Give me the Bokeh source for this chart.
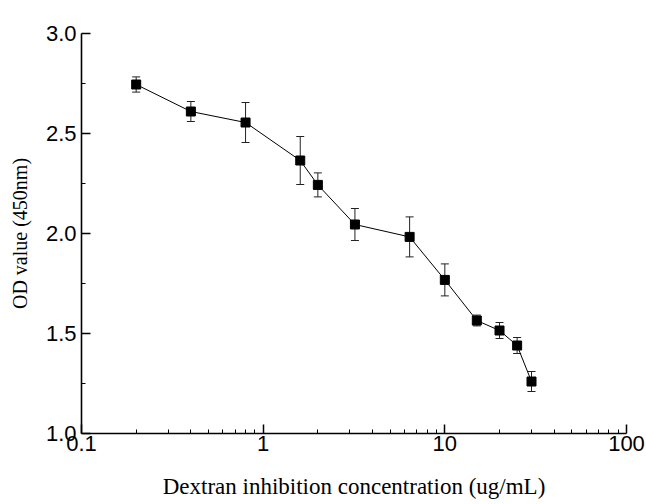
from bokeh.plotting import figure
from bokeh.models import FixedTicker, ColumnDataSource, Whisker, TeeHead, Range1d
from bokeh.embed import file_html
from bokeh.resources import INLINE

conc = [0.2, 0.4, 0.8, 1.6, 2.0, 3.2, 6.4, 10, 15, 20, 25, 30]
od = [2.745, 2.61, 2.555, 2.365, 2.243, 2.045, 1.983, 1.768, 1.565, 1.515, 1.44, 1.26]
err = [0.038, 0.05, 0.10, 0.12, 0.06, 0.08, 0.10, 0.08, 0.027, 0.04, 0.04, 0.05]
x_ticks = [0.1, 1, 10, 100]
y_ticks = [1.0, 1.5, 2.0, 2.5, 3.0]

upper = [v + e for v, e in zip(od, err)]
lower = [v - e for v, e in zip(od, err)]
src = ColumnDataSource(dict(x=conc, y=od, upper=upper, lower=lower))

p = figure(width=646, height=504, x_axis_type="log", output_backend="svg",
           toolbar_location=None, x_range=Range1d(0.1, 100), y_range=Range1d(1.0, 3.0),
           min_border_left=81, min_border_right=20, min_border_top=33, min_border_bottom=71)
p.outline_line_color = None
p.xgrid.visible = False
p.ygrid.visible = False
p.background_fill_color = "white"
p.border_fill_color = "white"

minor_x = []
for dec in [0.1, 1, 10]:
    for m in range(2, 10):
        minor_x.append(dec * m)
p.xaxis.ticker = FixedTicker(ticks=x_ticks, minor_ticks=minor_x)
p.yaxis.ticker = FixedTicker(ticks=y_ticks, minor_ticks=[1.25, 1.75, 2.25, 2.75])
p.xaxis.major_label_overrides = {0.1: "0.1", 1: "1", 10: "10", 100: "100"}
p.yaxis.major_label_overrides = {1.0: "1.0", 1.5: "1.5", 2.0: "2.0", 2.5: "2.5", 3.0: "3.0"}

for ax in [p.xaxis[0], p.yaxis[0]]:
    ax.axis_line_width = 1.6
    ax.axis_line_color = "black"
    ax.major_tick_in = 9
    ax.major_tick_out = 0
    ax.minor_tick_in = 4
    ax.minor_tick_out = 0
    ax.major_tick_line_width = 1.5
    ax.minor_tick_line_width = 1
    ax.major_tick_line_color = "black"
    ax.minor_tick_line_color = "black"
    ax.major_label_text_font = "Liberation Sans"
    ax.major_label_text_font_size = "22px"
    ax.major_label_text_color = "black"
    ax.axis_label_text_font = "Liberation Serif"
    ax.axis_label_text_font_style = "normal"
    ax.axis_label_text_color = "black"

p.xaxis.axis_label_text_font_size = "23px"
p.yaxis.axis_label_text_font_size = "20px"
p.xaxis.major_label_standoff = 2
p.yaxis.major_label_standoff = 5
p.xaxis.axis_label = "Dextran inhibition concentration (ug/mL)"
p.yaxis.axis_label = "OD value (450nm)"
p.xaxis.axis_label_standoff = 20
p.yaxis.axis_label_standoff = 12

p.line("x", "y", source=src, line_color="black", line_width=1)
w = Whisker(source=src, base="x", upper="upper", lower="lower",
            line_color="#222222", line_width=1,
            upper_head=TeeHead(size=8, line_color="#222222", line_width=1),
            lower_head=TeeHead(size=8, line_color="#222222", line_width=1))
p.add_layout(w)
p.scatter("x", "y", source=src, marker="square", size=9, fill_color="black", line_color="black")

open("out.html", "w").write(file_html(p, INLINE))
